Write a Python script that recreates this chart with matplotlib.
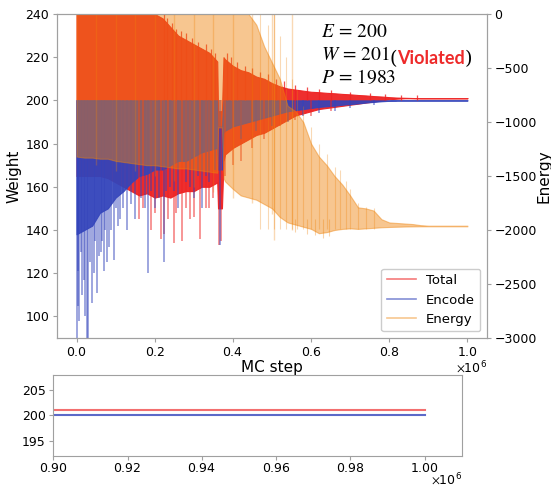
import numpy as np
import matplotlib
matplotlib.use("Agg")
import matplotlib.pyplot as plt
from matplotlib.lines import Line2D
from matplotlib.ticker import ScalarFormatter, MultipleLocator

plt.rcParams['mathtext.fontset'] = 'stix'
plt.rcParams['font.family'] = ['DejaVu Sans']

# ---------------- data (MC step in thousands) ----------------
mc_step_k = [0, 20, 40, 60, 80, 100, 120, 140, 160, 180, 200, 220, 240, 260, 280, 300,
             320, 340, 360, 362, 372, 376, 380, 400, 420, 440, 460, 480, 500, 520, 540,
             560, 580, 600, 620, 640, 660, 680, 700, 720, 740, 760, 780, 800, 820, 840,
             860, 880, 900, 920, 940, 960, 980, 1000]

total_hi = [240, 240, 240, 240, 240, 240, 240, 240, 240, 240, 240, 238, 234, 230, 228, 226,
            224, 222, 218, 195, 195, 220, 219, 216, 214, 213, 211, 210, 208, 206.5, 205.5,
            205, 204.5, 204, 203.8, 203.5, 203.3, 203, 202.8, 202.5, 202.3, 202, 201.8, 201.5,
            201.3, 201.2, 201.1, 201, 201, 201, 201, 201, 201, 201]
total_lo = [165, 165, 165, 165, 164, 162, 160, 158, 156, 157, 155, 156, 155, 157, 158, 158,
            160, 160, 162, 150, 150, 172, 175, 178, 180, 182, 184, 185, 187, 189, 191,
            193, 194, 195, 196, 196.5, 197, 197.5, 198, 198.5, 199, 199.5, 200, 200.5,
            200.8, 201, 201, 201, 201, 201, 201, 201, 201, 201]

encode_hi = [200] * 19 + [188, 188] + [200] * 33
encode_lo = [138, 140, 142, 148, 150, 155, 158, 162, 165, 166, 168, 168, 170, 172, 172, 174,
             176, 177, 178, 168, 168, 185, 186, 188, 189, 190, 191, 192, 193, 194, 195,
             195.5, 196, 196.5, 197, 197.3, 197.6, 198, 198.3, 198.6, 199, 199.3, 199.6,
             199.8, 200, 200, 200, 200, 200, 200, 200, 200, 200, 200]

energy_hi = [0] * 26 + [-100, -300, -450, -600, -850, -900, -1000, -1200, -1320, -1400,
                        -1500, -1580, -1680, -1790, -1800, -1820, -1900, -1930, -1935,
                        -1940, -1945, -1955, -1960, -1960, -1960, -1960, -1960, -1960]
energy_lo = [-1320, -1330, -1330, -1340, -1340, -1360, -1370, -1380, -1390, -1400, -1400,
             -1410, -1420, -1430, -1430, -1440, -1450, -1460, -1470, -1050, -1050, -1520,
             -1550, -1620, -1680, -1700, -1720, -1760, -1800, -1880, -1930, -1950, -1970,
             -1990, -2030, -2020, -2000, -1990, -1985, -1990, -1985, -1980, -1975, -1972,
             -1970, -1968, -1967, -1966, -1966, -1966, -1966, -1966, -1966, -1966]

# downward spikes of Encode (MC step in thousands, weight at tip)
encode_spike_k = [0, 3, 5, 7, 12, 15, 19, 22, 26, 29, 34, 40, 44, 47, 53, 57, 62, 66, 70,
                  74, 78, 83, 88, 95, 100, 105, 110, 120, 130, 140, 150, 165, 175, 183, 190,
                  200, 210, 223, 230, 240, 250, 260, 280, 290, 300, 310, 320, 330, 340, 355,
                  368, 420, 460, 500, 540, 580, 620, 660, 700, 760]
encode_spike_w = [90, 121, 105, 98, 130, 110, 117, 100, 90, 90, 125, 106, 120, 135, 111,
                  128, 130, 135, 121, 140, 125, 132, 140, 126, 150, 142, 145, 150, 140, 152,
                  145, 155, 150, 120, 158, 150, 155, 125, 158, 160, 158, 150, 162, 160, 155,
                  165, 150, 165, 162, 168, 133, 182, 186, 188, 190, 193, 194, 195, 196.5, 198]
# downward spikes of Total
total_spike_k = [160, 170, 190, 200, 215, 225, 235, 249, 255, 270, 280, 290, 300, 317, 330,
                 340, 350, 365, 370, 380, 400, 420, 450, 480, 520, 560, 600, 650]
total_spike_w = [145, 150, 140, 148, 136, 138, 145, 134, 148, 135, 150, 145, 146, 136, 150,
                 150, 155, 133, 135, 165, 170, 172, 178, 182, 188, 191, 193, 195]
# upward spikes of Total
total_up_k = [225, 232, 245, 255, 268, 280, 295, 310, 330, 345, 355, 385, 395, 410, 430,
              450, 470, 490, 510, 530, 560, 590, 620, 650, 700, 750, 790, 830, 870]
total_up_w = [240, 238, 236, 233, 232, 231, 229, 227, 226, 224, 222, 222, 220, 218, 216,
              215, 213, 212, 210, 209, 207, 206, 205.5, 205, 204, 203.5, 203, 202.5, 202.3]
# Energy streaks from the top and spikes
energy_spike_k = [50, 100, 150, 200, 250, 300, 350, 400, 450, 500, 506, 550]
energy_spike_e = [-1400, -1450, -1450, -1500, -1550, -1600, -1650, -1700, -1750, -1850,
                  -2090, -2000]
energy_up_k = [470, 490, 505, 520, 535, 550, 565, 580, 600, 620, 640, 660, 675, 690, 700,
               720, 740, 760]
energy_up_e = [0, -100, 0, -200, -400, -600, -700, -850, -1050, -1200, -1300, -1420,
               -1440, -1550, -1620, -1750, -1790, -1800]
energy_down_k = [560, 590, 610, 630, 645]
energy_down_e = [-2020, -2040, -2050, -2070, -2060]

E_val, W_val, P_val = 200, 201, 1983

# ---------------- styling ----------------
RED = '#EE2222'
BLUE = '#3344BB'
ORANGE = '#EE820A'
SPINE = '#A0A0A0'
FS_TICK = 9
OFFSET_TXT = r'$\times\mathdefault{10^{6}}$'

x = np.array(mc_step_k) * 1000.0
t_hi, t_lo = np.array(total_hi), np.array(total_lo)
e_hi, e_lo = np.array(encode_hi), np.array(encode_lo)
en_hi, en_lo = np.array(energy_hi), np.array(energy_lo)
K = 1000.0

fig = plt.figure(figsize=(5.51, 4.88), dpi=100)
ax = fig.add_axes([0.1034, 0.3074, 0.7804, 0.6639])
ax2 = ax.twinx()
axb = fig.add_axes([0.0967, 0.0656, 0.7412, 0.166])

ax.fill_between(x, t_lo, t_hi, color=RED, alpha=0.95, lw=0.8)
ax.vlines(np.array(total_spike_k) * K, total_spike_w, 200, colors=RED, alpha=0.6, lw=1.1)
ax.vlines(np.array(total_up_k) * K, 200, total_up_w, colors=RED, alpha=0.8, lw=0.9)
ax.fill_between(x, e_lo, e_hi, color=BLUE, alpha=0.9, lw=0.8)
ax.vlines(np.array(encode_spike_k) * K, encode_spike_w, 200, colors=BLUE, alpha=0.6, lw=1.1)

ax2.fill_between(x, en_lo, en_hi, color=ORANGE, alpha=0.45, lw=0.8)
ax2.vlines(np.array(energy_spike_k) * K, energy_spike_e, 0, colors=ORANGE, alpha=0.3, lw=1.0)
ax2.vlines(np.array(energy_up_k) * K, -1990, energy_up_e, colors=ORANGE, alpha=0.3, lw=0.8)
ax2.vlines(np.array(energy_down_k) * K, energy_down_e, -1900, colors=ORANGE, alpha=0.35, lw=0.8)

ax.set_xlim(-0.05e6, 1.05e6)
ax.set_ylim(90, 240)
ax.set_yticks(np.arange(100, 241, 20))
ax2.set_ylim(-3000, 0)

fmt = ScalarFormatter(useMathText=True)
fmt.set_powerlimits((0, 0))
ax.xaxis.set_major_formatter(fmt)
ax.xaxis.set_major_locator(MultipleLocator(0.2e6))
ax.xaxis.get_offset_text().set_visible(False)
ax.text(1.0, -0.066, OFFSET_TXT, transform=ax.transAxes,
        ha='right', va='top', fontsize=FS_TICK, family='DejaVu Sans')

for a in (ax, ax2, axb):
    for s in a.spines.values():
        s.set_color(SPINE)
    a.tick_params(colors=SPINE, labelcolor='black', labelsize=FS_TICK, length=3, pad=2.5)
axb.tick_params(axis='x', pad=1.5)

ax.set_xlabel('MC step', fontsize=11, labelpad=1)
ax.set_ylabel('Weight', fontsize=11, labelpad=3)
ax2.set_ylabel('Energy', fontsize=11, labelpad=0)

# annotation
x0 = 0.613
ax.text(x0, 0.93, r'$E\,=\,%d$' % E_val, transform=ax.transAxes, fontsize=14, va='baseline')
t1 = ax.text(x0, 0.858, r'$W\,=\,%d$' % W_val, transform=ax.transAxes, fontsize=14, va='baseline')
t2 = ax.annotate('(', xy=(1, 0), xycoords=t1, fontsize=14, va='baseline', family='DejaVu Serif')
t3 = ax.annotate('Violated', xy=(1, 0), xycoords=(t2, t1), fontsize=13, va='baseline',
                 color='#EE2A2A', fontweight='bold', family='Lato')
ax.annotate(')', xy=(1, 0), xycoords=(t3, t1), fontsize=14, va='baseline', family='DejaVu Serif')
ax.text(x0, 0.787, r'$P\,=\,%d$' % P_val, transform=ax.transAxes, fontsize=14, va='baseline')

handles = [Line2D([], [], color=RED, alpha=0.6, lw=1.2),
           Line2D([], [], color=BLUE, alpha=0.6, lw=1.2),
           Line2D([], [], color=ORANGE, alpha=0.45, lw=1.2)]
leg = ax2.legend(handles, ['Total', 'Encode', 'Energy'], loc='lower right', fontsize=9.5,
                 framealpha=1, edgecolor='#CCCCCC', handlelength=2.2)

# zoom panel
m = x >= 0.88e6
axb.plot(x[m], t_lo[m], color=RED, alpha=0.65, lw=1.5)
axb.plot(x[m], e_hi[m], color=BLUE, alpha=0.8, lw=1.5)
axb.set_xlim(0.9e6, 1.01e6)
axb.set_ylim(192, 208)
axb.set_yticks([195, 200, 205])
fmtb = ScalarFormatter(useMathText=True, useOffset=False)
fmtb.set_powerlimits((0, 0))
axb.xaxis.set_major_formatter(fmtb)
axb.xaxis.set_major_locator(MultipleLocator(0.02e6))
axb.xaxis.get_offset_text().set_visible(False)
axb.text(1.0, -0.2, OFFSET_TXT, transform=axb.transAxes,
         ha='right', va='top', fontsize=FS_TICK, family='DejaVu Sans')

fig.savefig('out.png', dpi=100)
